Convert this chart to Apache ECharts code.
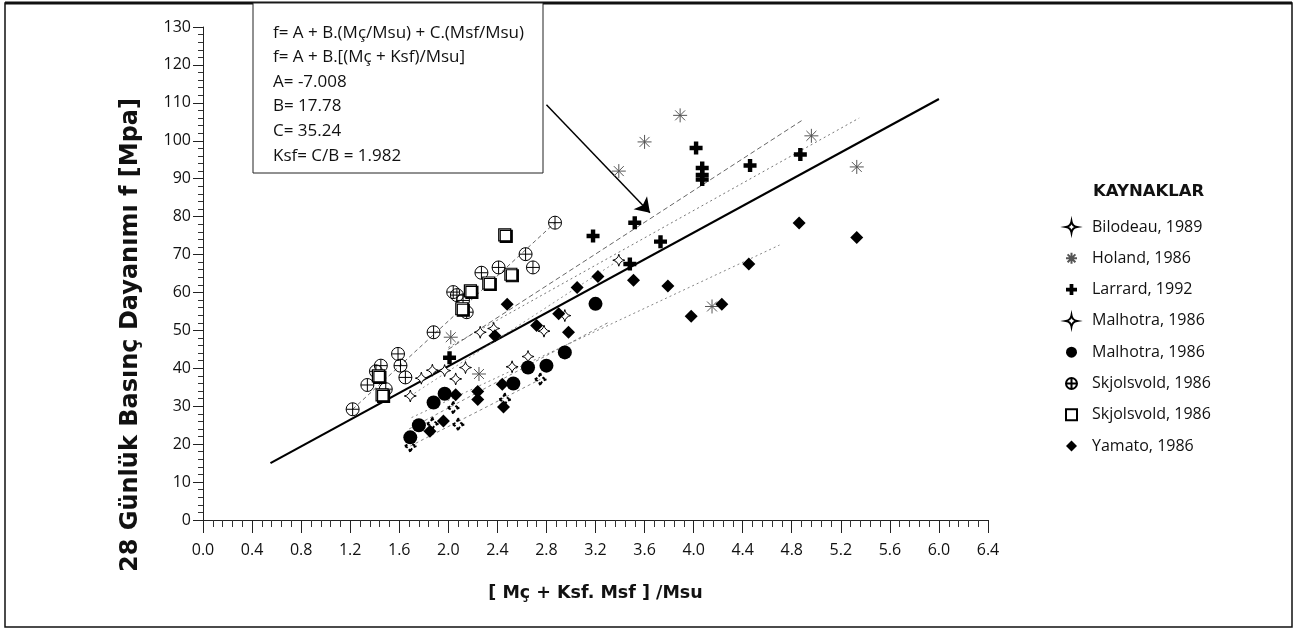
<!DOCTYPE html>
<html>
<head>
<meta charset="utf-8">
<script src="https://cdn.jsdelivr.net/npm/echarts@6/dist/echarts.min.js"></script>
<style>html,body{margin:0;padding:0;background:#fff;}</style>
</head>
<body>
<div id="main" style="width:1298px;height:634px;"></div>
<script>
// values
var bilodeau = [[1.69,19.5],[1.87,25.4],[2.04,29.6],[2.08,25.2],[2.46,31.8],[2.75,37.1]];
var holand = [[2.02,48.2],[2.25,38.5],[3.39,92.0],[3.60,99.7],[3.89,106.7],[4.15,56.3],[4.96,101.3],[5.33,93.1]];
var larrard = [[2.01,42.8],[3.18,74.9],[3.48,67.5],[3.52,78.4],[3.73,73.4],[4.02,98.1],[4.07,92.8],[4.07,91.0],[4.07,89.8],[4.46,93.5],[4.87,96.4]];
var malhotraA = [[1.69,32.7],[1.78,37.4],[1.87,39.5],[1.97,39.4],[2.06,37.2],[2.14,40.2],[2.26,49.5],[2.37,50.5],[2.52,40.4],[2.65,43.1],[2.78,49.8],[2.95,53.9],[3.39,68.5]];
var malhotraB = [[1.69,21.8],[1.76,25.0],[1.88,31.0],[1.97,33.3],[2.53,36.0],[2.65,40.2],[2.80,40.7],[2.95,44.2],[3.20,57.0]];
var skjolsvoldA = [[1.22,29.2],[1.34,35.6],[1.41,39.2],[1.45,40.7],[1.49,34.5],[1.59,43.8],[1.61,40.7],[1.65,37.6],[1.88,49.5],[2.04,60.1],[2.07,59.3],[2.12,57.9],[2.15,54.8],[2.27,65.2],[2.41,66.6],[2.63,70.1],[2.69,66.6],[2.87,78.4]];
var skjolsvoldB = [[1.43,38.0],[1.46,33.0],[2.11,55.7],[2.18,60.4],[2.33,62.5],[2.46,75.2],[2.51,64.8]];
var yamato = [[1.85,23.4],[1.96,26.1],[2.06,33.0],[2.24,33.9],[2.24,31.8],[2.38,48.6],[2.44,35.8],[2.45,29.8],[2.48,56.9],[2.72,51.3],[2.90,54.4],[2.98,49.5],[3.05,61.3],[3.22,64.2],[3.51,63.2],[3.79,61.7],[3.98,53.7],[4.23,56.9],[4.45,67.5],[4.86,78.3],[5.33,74.5]];

// fitted lines (end points)
var mainFit = [[0.55,15.0],[6.0,111.0]];
var skjolsvoldFit = [[1.22,29.2],[2.87,78.4]];
var larrardFit = [[2.0,45.0],[4.88,105.3]];
var holandFit = [[2.0,45.5],[5.35,106.0]];
var malhotraAFit = [[1.69,32.7],[3.39,68.5]];
var malhotraBFit = [[1.68,24.0],[3.3,52.0]];
var yamatoFit = [[1.7,27.0],[4.7,72.5]];
var bilodeauFit = [[1.69,19.5],[2.75,37.1]];
var arrowEnds = [[2.80,109.5],[3.644,81.0]];

var legendNames = ['Bilodeau, 1989','Holand, 1986','Larrard, 1992','Malhotra, 1986#1','Malhotra, 1986#2','Skjolsvold, 1986#1','Skjolsvold, 1986#2','Yamato, 1986'];
var boxLines = ['f= A + B.(Mç/Msu) + C.(Msf/Msu)','f= A + B.[(Mç + Ksf)/Msu]','A= -7.008','B= 17.78','C= 35.24','Ksf= C/B = 1.982'];

var starPath = 'path://M10,0Q11.5,8.5 20,10Q11.5,11.5 10,20Q8.5,11.5 0,10Q8.5,8.5 10,0Z';
var astPath = 'path://M10,0L10,20M0,10L20,10M2.9,2.9L17.1,17.1M17.1,2.9L2.9,17.1';
var crossPath = 'path://M3.3,0H6.7V3.3H10V6.7H6.7V10H3.3V6.7H0V3.3H3.3Z';
var oplusPath = 'path://M10,0A10,10 0 1 1 9.99,0ZM10,0L10,20M0,10L20,10';
var clear = 'rgba(0,0,0,0)';

function pts(name, data, symbol, size, style) {
    style.opacity = 1;
    return {
        name: name, type: 'scatter', data: data, symbol: symbol, symbolSize: size,
        itemStyle: style, z: 5, silent: true
    };
}
function fit(data, type, color, width) {
    return {
        type: 'line', data: data, symbol: 'none', silent: true, z: 2,
        lineStyle: {color: color, width: width, type: type}
    };
}

var chart = echarts.init(document.getElementById('main'));

var mainLine = fit(mainFit, 'solid', '#000', 2.2);
mainLine.markLine = {
    silent: true, animation: false,
    symbol: ['none', 'arrow'], symbolSize: 14,
    label: {show: false},
    lineStyle: {color: '#000', width: 1.5, type: 'solid', opacity: 1},
    data: [[{coord: arrowEnds[0]}, {coord: arrowEnds[1]}]]
};

chart.setOption({
    animation: false,
    grid: {left: 203, top: 27, width: 785, height: 493},
    xAxis: {
        type: 'value', min: 0, max: 6.4, interval: 0.4,
        name: '[ Mç + Ksf. Msf ] /Msu', nameLocation: 'middle', nameGap: 64,
        nameTextStyle: {fontFamily: 'DejaVu Sans', fontWeight: 'bold', fontSize: 17.5, color: '#111'},
        axisLine: {lineStyle: {color: '#222', width: 1}},
        axisTick: {length: 13, lineStyle: {color: '#222'}},
        minorTick: {show: true, splitNumber: 5, length: 7, lineStyle: {color: '#333'}},
        splitLine: {show: false},
        axisLabel: {margin: 22, fontFamily: 'Open Sans', fontSize: 16, color: '#111',
            formatter: function (v) { return v.toFixed(1); }}
    },
    yAxis: {
        type: 'value', min: 0, max: 130, interval: 10,
        axisLine: {show: true, lineStyle: {color: '#222', width: 1}},
        axisTick: {show: true, length: 10, lineStyle: {color: '#222'}},
        minorTick: {show: true, splitNumber: 5, length: 5, lineStyle: {color: '#333'}},
        splitLine: {show: false},
        axisLabel: {margin: 12, fontFamily: 'Open Sans', fontSize: 16, color: '#111'}
    },
    legend: {
        orient: 'vertical', left: 1060, top: 213,
        itemWidth: 11, itemHeight: 11, itemGap: 13.3,
        data: legendNames,
        formatter: function (n) { return n.replace(/#\d$/, ''); },
        textStyle: {fontFamily: 'Open Sans', fontSize: 16, color: '#111', lineHeight: 18, padding: [0, 0, 0, 10]}
    },
    graphic: [
        {type: 'rect', shape: {x: 5, y: 3, width: 1287, height: 624}, style: {fill: 'none', stroke: '#111', lineWidth: 1.5}, silent: true},
        {type: 'line', shape: {x1: 5, y1: 3, x2: 1292, y2: 3}, style: {stroke: '#111', lineWidth: 3}, silent: true},
        {type: 'rect', shape: {x: 253, y: 3, width: 290, height: 170}, style: {fill: '#fff', stroke: '#222', lineWidth: 1}, z: 100, silent: true}
    ].concat(boxLines.map(function (t, i) {
        return {type: 'text', x: 273, y: 32.7 + i * 24.6, z: 101, silent: true,
            style: {text: t, font: '17px "Open Sans"', fill: '#111', textVerticalAlign: 'middle'}};
    })).concat([
        {type: 'text', x: 1093, y: 192, z: 101, silent: true, style: {text: 'KAYNAKLAR', font: 'bold 16.5px "DejaVu Sans"', fill: '#111', textVerticalAlign: 'middle'}},
        {type: 'text', x: 131, y: 335, rotation: Math.PI / 2, z: 101, silent: true,
            style: {text: '28 Günlük Basınç Dayanımı f [Mpa]', font: 'bold 24px "DejaVu Sans"', fill: '#111', textAlign: 'center', textVerticalAlign: 'middle'}}
    ]),
    series: [
        mainLine,
        fit(skjolsvoldFit, [4, 3], '#555', 0.9),
        fit(larrardFit, [5, 3], '#555', 0.9),
        fit(holandFit, [2, 3], '#666', 0.9),
        fit(malhotraAFit, [2, 3], '#777', 0.8),
        fit(malhotraBFit, [3, 3], '#666', 0.8),
        fit(yamatoFit, [2, 3], '#666', 0.8),
        fit(bilodeauFit, [3, 3], '#666', 0.8),
        pts(legendNames[0], bilodeau, starPath, 13, {color: clear, borderColor: '#000', borderWidth: 2, borderType: [3, 2]}),
        pts(legendNames[1], holand, astPath, 14, {color: clear, borderColor: '#555', borderWidth: 1}),
        pts(legendNames[2], larrard, crossPath, 13, {color: '#000'}),
        pts(legendNames[3], malhotraA, starPath, 12, {color: '#fff', borderColor: '#000', borderWidth: 1}),
        pts(legendNames[4], malhotraB, 'circle', 14, {color: '#000'}),
        pts(legendNames[5], skjolsvoldA, oplusPath, 13, {color: clear, borderColor: '#000', borderWidth: 1}),
        pts(legendNames[6], skjolsvoldB, 'rect', 12, {color: '#fff', borderColor: '#000', borderWidth: 1.2, shadowColor: '#000', shadowOffsetX: 1.5, shadowOffsetY: 1.5, shadowBlur: 0}),
        pts(legendNames[7], yamato, 'diamond', 13, {color: '#000'})
    ]
});
</script>
</body>
</html>
